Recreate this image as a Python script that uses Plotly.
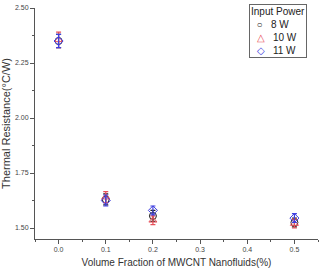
import plotly.graph_objects as go

fraction = [0.0, 0.1, 0.2, 0.5]
series_names = ["8 W", "10 W", "11 W"]
r_8w = [2.35, 1.63, 1.555, 1.525]
r_10w = [2.355, 1.64, 1.535, 1.52]
r_11w = [2.35, 1.625, 1.58, 1.545]
err_8w = [0.03, 0.025, 0.025, 0.02]
err_10w = [0.035, 0.025, 0.02, 0.02]
err_11w = [0.03, 0.025, 0.02, 0.02]
legend_title = "Input Power"
legend_glyphs = ["○", "△", "◇"]

colors = ["#222222", "#e8505a", "#4040e0"]
symbols = ["circle-open", "triangle-up-open", "diamond-open"]
values = [r_8w, r_10w, r_11w]
errors = [err_8w, err_10w, err_11w]

fig = go.Figure()
for name, vals, errs, col, sym in zip(series_names, values, errors, colors, symbols):
    fig.add_trace(go.Scatter(
        x=fraction, y=vals, name=name, mode="markers", showlegend=False,
        marker=dict(symbol=sym, size=7, color=col, line=dict(width=1, color=col)),
        error_y=dict(type="data", array=errs, color=col, thickness=1.2, width=2.5),
    ))

# legend drawn as a boxed text block
lines = [legend_title]
for g, name, col in zip(legend_glyphs, series_names, colors):
    lines.append(f"&nbsp;&nbsp;<span style='color:{col}'>{g}</span>&nbsp;&nbsp;&nbsp;{name}")
fig.add_annotation(
    xref="paper", yref="paper", x=0.961, y=1.017, xanchor="right", yanchor="top",
    text="<br>".join(lines), align="left", showarrow=False,
    font=dict(family="Arial, Liberation Sans, sans-serif", size=10, color="#222"),
    bordercolor="#666", borderwidth=1, borderpad=1, bgcolor="white",
)

axis_font = dict(family="Arial, Liberation Sans, sans-serif", size=7, color="#444")
fig.update_layout(
    width=322, height=270,
    margin=dict(l=35, r=4, t=8, b=31),
    paper_bgcolor="white", plot_bgcolor="white",
    font=dict(family="Arial, Liberation Sans, sans-serif", color="#333"),
    showlegend=False,
    xaxis=dict(
        range=[-0.05, 0.55], tickvals=[0.0, 0.1, 0.2, 0.3, 0.4, 0.5],
        ticktext=["0.0", "0.1", "0.2", "0.3", "0.4", "0.5"],
        showgrid=False, zeroline=False, showline=True, linecolor="#555", linewidth=1,
        ticks="outside", ticklen=4, tickcolor="#555", tickfont=axis_font,
        minor=dict(tickvals=[-0.05, 0.05, 0.15, 0.25, 0.35, 0.45, 0.55], ticks="outside", ticklen=2, tickcolor="#555"),
        title=dict(text="Volume Fraction of MWCNT Nanofluids(%)", font=dict(size=10, color="#333"), standoff=6),
    ),
    yaxis=dict(
        range=[1.45, 2.50], tickvals=[1.50, 1.75, 2.00, 2.25, 2.50],
        ticktext=["1.50", "1.75", "2.00", "2.25", "2.50"],
        showgrid=False, zeroline=False, showline=True, linecolor="#555", linewidth=1,
        ticks="outside", ticklen=4, tickcolor="#555", tickfont=axis_font,
        minor=dict(tickvals=[1.625, 1.875, 2.125, 2.375], ticks="outside", ticklen=2, tickcolor="#555"),
        title=dict(text="Thermal Resistance(°C/W)", font=dict(size=11, color="#333"), standoff=2),
    ),
)
fig.write_html("out.html")
